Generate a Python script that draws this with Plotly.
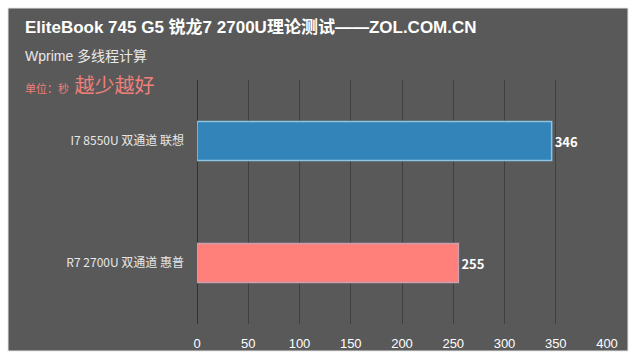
import plotly.graph_objects as go

categories = ["R7 2700U 双通道 惠普", "I7 8550U 双通道 联想"]
values = [255, 346]
bar_colors = ["#ff7f7a", "#3384b8"]
line_colors = ["#c8a0b0", "#8cc4e4"]
tick_vals = [0, 50, 100, 150, 200, 250, 300, 350, 400]

title_text = "EliteBook 745 G5 锐龙7 2700U理论测试——ZOL.COM.CN"
subtitle_text = "Wprime 多线程计算"
unit_text = "单位：秒"
note_text = "越少越好"

CJK = "Liberation Sans, Arial, Noto Sans CJK SC, sans-serif"
NARROW = "Liberation Sans Narrow, Arial Narrow, Noto Sans CJK SC, sans-serif"

# plot area in pixels: x 197..607, y 80..324
L, R, T, B = 197, 33, 80, 38
W, H = 640, 362
pw = W - L - R
ph = H - T - B

def px2x(px):
    return (px - L) / pw

def py2y(py):
    return (H - B - py) / ph

fig = go.Figure()
fig.add_trace(go.Bar(
    y=categories,
    x=values,
    orientation="h",
    width=0.32,
    marker=dict(color=bar_colors, line=dict(color=line_colors, width=1.5)),
    text=values,
    texttemplate="<b>%{x}</b>",
    textposition="outside",
    textfont=dict(color="#ffffff", size=13, family=NARROW),
    cliponaxis=False,
    hoverinfo="skip",
))

shapes = [
    dict(type="rect", xref="paper", yref="paper", layer="below",
         x0=px2x(8), x1=px2x(628), y0=py2y(351), y1=py2y(8),
         fillcolor="#595959", line=dict(color="#e6e6e6", width=1)),
]

annotations = [
    dict(text=f"<b>{title_text}</b>", xref="paper", yref="paper",
         x=px2x(23), y=py2y(27), xanchor="left", yanchor="middle", showarrow=False,
         font=dict(size=17, color="#ffffff", family=CJK)),
    dict(text=subtitle_text, xref="paper", yref="paper",
         x=px2x(23), y=py2y(56), xanchor="left", yanchor="middle", showarrow=False,
         font=dict(size=14, color="#e8e8e8", family=CJK)),
    dict(text=f"<span style='font-size:11px'>{unit_text}</span> <span style='font-size:20px'>{note_text}</span>",
         xref="paper", yref="paper",
         x=px2x(23), y=py2y(86), xanchor="left", yanchor="middle", showarrow=False,
         font=dict(size=20, color="#f07f7a", family=CJK)),
]

fig.update_layout(
    width=W, height=H,
    margin=dict(l=L, r=R, t=T, b=B),
    paper_bgcolor="#ffffff",
    plot_bgcolor="rgba(0,0,0,0)",
    showlegend=False,
    bargap=0.5,
    shapes=shapes,
    annotations=annotations,
    xaxis=dict(
        range=[0, 400],
        tickvals=tick_vals,
        ticktext=[str(v) for v in tick_vals],
        showgrid=True, gridcolor="#404040", gridwidth=1,
        zeroline=True, zerolinecolor="#333333", zerolinewidth=1,
        showline=False,
        ticks="", ticklabelstandoff=10,
        tickfont=dict(color="#ffffff", size=13, family=CJK),
        fixedrange=True,
    ),
    yaxis=dict(
        range=[-0.5, 1.5],
        showgrid=False, zeroline=False, showline=False,
        ticks="", ticklabelstandoff=12,
        tickfont=dict(color="#e8e8e8", size=12, family=NARROW),
        fixedrange=True,
    ),
)

fig.write_html("out.html")
